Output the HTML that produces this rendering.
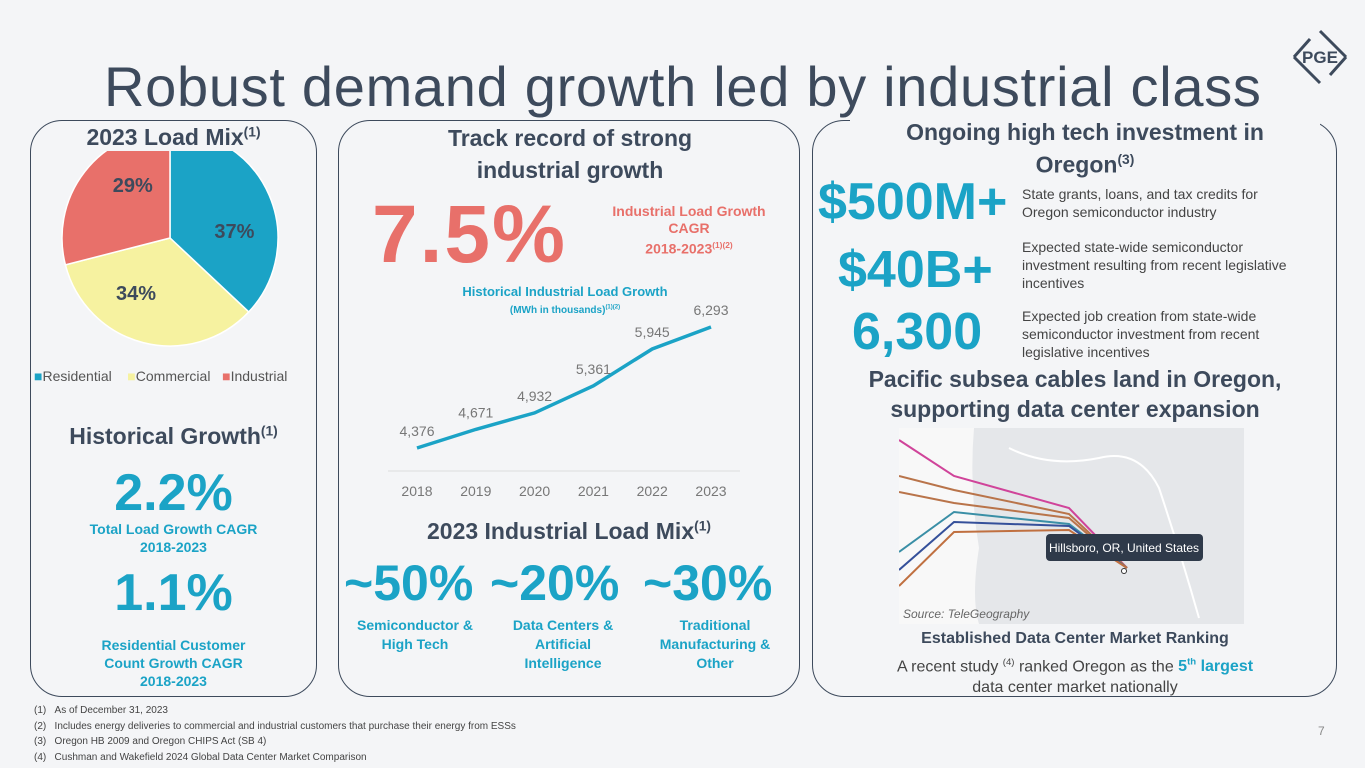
<!DOCTYPE html>
<html><head><meta charset="utf-8"><style>
*{margin:0;padding:0;box-sizing:border-box}
body{width:1365px;height:768px;background:#f4f5f7;font-family:"Liberation Sans",sans-serif;position:relative;overflow:hidden;color:#3d4a5c}
.a{position:absolute}
.panel{position:absolute;border:1.5px solid #3d4a5c;border-radius:32px}
.c{text-align:center}
.b{font-weight:bold}
.teal{color:#1ba3c6}.red{color:#e8706a}
sup{font-size:60%}
</style></head><body>
<div class="a" style="left:104px;top:54px;font-size:56px;letter-spacing:0.7px;color:#3d4a5c;white-space:nowrap">Robust demand growth led by industrial class</div>
<svg class="a" style="left:1288px;top:25px" width="64" height="64" viewBox="0 0 64 64"><g stroke="#3d4a5c" stroke-width="3" fill="none"><path d="M32 6 L58 32"/><path d="M32 58 L6 32"/><path d="M6 32 L22 14"/><path d="M58 32 L42 50"/></g><text x="32" y="38" text-anchor="middle" font-family="Liberation Sans" font-weight="bold" font-size="17" fill="#3d4a5c">PGE</text></svg>

<div class="panel" style="left:30px;top:120px;width:287px;height:577px"></div>
<div class="panel" style="left:338px;top:120px;width:462px;height:577px"></div>
<div class="panel" style="left:812px;top:120px;width:525px;height:577px"></div>

<svg class="a" id="pie" style="left:0;top:0" width="340" height="400"></svg>
<div class="a b c" style="left:60px;top:124px;width:227px;font-size:23px;background:#f4f5f7">2023 Load Mix<sup>(1)</sup></div>
<div class="a" style="left:34px;top:368px;font-size:14px;color:#555;white-space:nowrap"><span style="color:#1ba3c6">■</span>Residential &nbsp;&nbsp;&nbsp;<span style="color:#f6f2a0">■</span>Commercial &nbsp;&nbsp;<span style="color:#e8706a">■</span>Industrial</div>

<div class="a b c" style="left:30px;top:423px;width:287px;font-size:23px">Historical Growth<sup>(1)</sup></div>
<div class="a b c teal" style="left:30px;top:463px;width:287px;font-size:52px">2.2%</div>
<div class="a b c teal" style="left:30px;top:520px;width:287px;font-size:14px;line-height:18px">Total Load Growth CAGR<br>2018-2023</div>
<div class="a b c teal" style="left:30px;top:563px;width:287px;font-size:52px">1.1%</div>
<div class="a b c teal" style="left:30px;top:636px;width:287px;font-size:14px;line-height:18px">Residential Customer<br>Count Growth CAGR<br>2018-2023</div>

<div class="a b c" style="left:400px;top:122px;width:340px;font-size:23px;line-height:32px;background:#f4f5f7">Track record of strong<br>industrial growth</div>
<div class="a b red" style="left:372px;top:188px;font-size:82px;letter-spacing:2px">7.5%</div>
<div class="a b c red" style="left:598px;top:203px;width:182px;font-size:14px;line-height:17px">Industrial Load Growth<br>CAGR<br>2018-2023<sup>(1)(2)</sup></div>
<div class="a b c teal" style="left:420px;top:284px;width:290px;font-size:13px;line-height:16px">Historical Industrial Load Growth<br><span style="font-size:10px">(MWh in thousands)<sup>(1)(2)</sup></span></div>
<svg class="a" id="line" style="left:0;top:0" width="800" height="520"></svg>

<div class="a b c" style="left:338px;top:518px;width:462px;font-size:23px">2023 Industrial Load Mix<sup>(1)</sup></div>
<div class="a b teal" style="left:344px;top:554px;font-size:50px">~50%</div>
<div class="a b teal" style="left:490px;top:554px;font-size:50px">~20%</div>
<div class="a b teal" style="left:643px;top:554px;font-size:50px">~30%</div>
<div class="a b c teal" style="left:340px;top:616px;width:150px;font-size:14px;line-height:19px">Semiconductor &amp;<br>High Tech</div>
<div class="a b c teal" style="left:488px;top:616px;width:150px;font-size:14px;line-height:19px">Data Centers &amp;<br>Artificial<br>Intelligence</div>
<div class="a b c teal" style="left:640px;top:616px;width:150px;font-size:14px;line-height:19px">Traditional<br>Manufacturing &amp;<br>Other</div>

<div class="a b c" style="left:850px;top:118px;width:470px;font-size:23px;line-height:28px;background:#f4f5f7">Ongoing high tech investment in<br>Oregon<sup>(3)</sup></div>
<div class="a b teal" style="left:818px;top:172px;font-size:52px">$500M+</div>
<div class="a" style="left:1022px;top:185px;font-size:14px;line-height:18px;color:#444">State grants, loans, and tax credits for<br>Oregon semiconductor industry</div>
<div class="a b teal" style="left:838px;top:240px;font-size:52px">$40B+</div>
<div class="a" style="left:1022px;top:238px;font-size:14px;line-height:18px;color:#444">Expected state-wide semiconductor<br>investment resulting from recent legislative<br>incentives</div>
<div class="a b teal" style="left:852px;top:302px;font-size:52px">6,300</div>
<div class="a" style="left:1022px;top:307px;font-size:14px;line-height:18px;color:#444">Expected job creation from state-wide<br>semiconductor investment from recent<br>legislative incentives</div>
<div class="a b c" style="left:820px;top:364px;width:510px;font-size:23px;line-height:30px">Pacific subsea cables land in Oregon,<br>supporting data center expansion</div>

<svg class="a" style="left:899px;top:428px" width="345" height="196" viewBox="0 0 345 196">
<rect width="345" height="196" fill="#e5e7ea"/>
<path d="M0 0 L75 0 Q70 60 80 120 Q72 170 80 196 L0 196Z" fill="#f8f8f8"/>
<path d="M110 20 Q150 40 200 30 Q240 20 260 60 Q280 120 300 190" stroke="#fff" stroke-width="2" fill="none"/>
<g fill="none" stroke-width="2">
<path d="M0 12 L55 48 L170 80 L228 140" stroke="#d0449a"/>
<path d="M0 48 L55 62 L170 86 L228 140" stroke="#b9744a"/>
<path d="M0 64 L55 75 L170 90 L228 140" stroke="#b9744a"/>
<path d="M0 124 L55 84 L170 96 L228 140" stroke="#3a8fa6"/>
<path d="M0 142 L55 94 L170 98 L228 140" stroke="#35509a"/>
<path d="M0 158 L55 104 L170 102 L228 140" stroke="#c07040"/>
</g>
<rect x="147" y="106" width="157" height="27" rx="4" fill="#2f3a4a"/>
<text x="225" y="124" text-anchor="middle" font-family="Liberation Sans" font-size="12" fill="#fff">Hillsboro, OR, United States</text>
<circle cx="225" cy="143" r="2.5" fill="#fff" stroke="#333"/>
<text x="4" y="190" font-family="Liberation Sans" font-style="italic" font-size="12" fill="#666">Source: TeleGeography</text>
</svg>
<div class="a b c" style="left:820px;top:630px;width:510px;font-size:16px">Established Data Center Market Ranking</div>
<div class="a c" style="left:820px;top:652px;width:510px;font-size:16px;line-height:21px;color:#444">A recent study <sup>(4)</sup> ranked Oregon as the <b class="teal">5<sup>th</sup> largest</b><br>data center market nationally</div>

<div class="a" style="left:34px;top:703px;font-size:10px;line-height:15.5px;color:#444">(1)&nbsp;&nbsp;&nbsp;As of December 31, 2023<br>(2)&nbsp;&nbsp;&nbsp;Includes energy deliveries to commercial and industrial customers that purchase their energy from ESSs<br>(3)&nbsp;&nbsp;&nbsp;Oregon HB 2009 and Oregon CHIPS Act (SB 4)<br>(4)&nbsp;&nbsp;&nbsp;Cushman and Wakefield 2024 Global Data Center Market Comparison</div>
<div class="a" style="left:1318px;top:724px;font-size:12px;color:#888">7</div>

<script>
const pieLabels=["Residential","Commercial","Industrial"];
const pieValues=[37,34,29];
const pieColors=["#1ba3c6","#f6f2a0","#e8706a"];
const years=["2018","2019","2020","2021","2022","2023"];
const loads=[4376,4671,4932,5361,5945,6293];
const NS="http://www.w3.org/2000/svg";
function mk(t,a){const e=document.createElementNS(NS,t);for(const k in a)e.setAttribute(k,a[k]);return e;}
const pie=document.getElementById('pie');
const cx=170,cy=238,r=108;
let total=pieValues.reduce((a,b)=>a+b,0),ang=-Math.PI/2;
pieValues.forEach((v,i)=>{
  const a2=ang+v/total*2*Math.PI;
  const x1=cx+r*Math.cos(ang),y1=cy+r*Math.sin(ang),x2=cx+r*Math.cos(a2),y2=cy+r*Math.sin(a2);
  const p=mk('path',{d:`M${cx} ${cy} L${x1} ${y1} A${r} ${r} 0 ${a2-ang>Math.PI?1:0} 1 ${x2} ${y2}Z`,fill:pieColors[i],stroke:'#fff','stroke-width':1.5});
  
  
  pie.appendChild(p);
  const m=(ang+a2)/2+0.3;
  const t=mk('text',{x:cx+r*0.6*Math.cos(m),y:cy+r*0.6*Math.sin(m)+7,'text-anchor':'middle','font-family':'Liberation Sans','font-weight':'bold','font-size':20,fill:'#3d4a5c'});
  t.textContent=v+'%';
  
  
  pie.appendChild(t);
  ang=a2;
});
const ln=document.getElementById('line');
const xS=i=>417+i*58.8;
const yS=v=>448-(v-4376)*(121/1917);
const ax=mk('line',{x1:388,x2:740,y1:471,y2:471,stroke:'#ddd','stroke-width':1});


ln.appendChild(ax);
const pl=mk('polyline',{points:loads.map((v,i)=>xS(i)+','+yS(v)).join(' '),fill:'none',stroke:'#1ba3c6','stroke-width':3.5});


ln.appendChild(pl);
loads.forEach((v,i)=>{
  const t=mk('text',{x:xS(i),y:yS(v)-12,'text-anchor':'middle','font-family':'Liberation Sans','font-size':14,fill:'#777'});
  t.textContent=v.toLocaleString('en-US');
  
  
  ln.appendChild(t);
  const y=mk('text',{x:xS(i),y:496,'text-anchor':'middle','font-family':'Liberation Sans','font-size':14,fill:'#777'});
  y.textContent=years[i];
  
  
  ln.appendChild(y);
});
</script>
</body></html>
